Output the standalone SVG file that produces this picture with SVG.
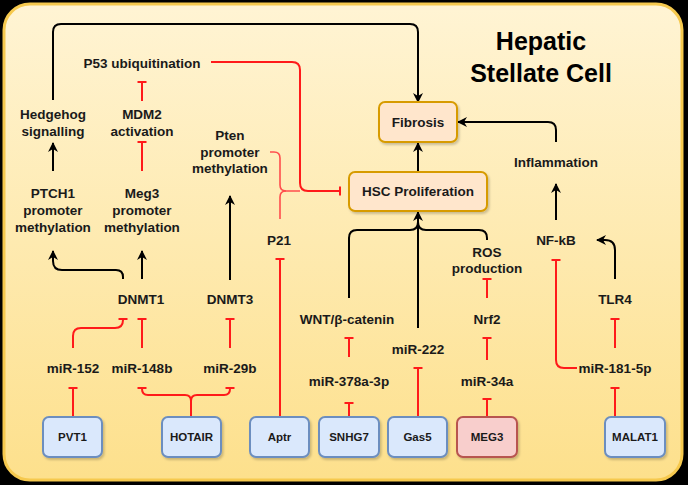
<svg xmlns="http://www.w3.org/2000/svg" width="688" height="485" viewBox="0 0 688 485">
<defs>
<linearGradient id="bg" x1="0" y1="0" x2="0" y2="1">
<stop offset="0" stop-color="#fff4d4"/>
<stop offset="1" stop-color="#fde08c"/>
</linearGradient>
<marker id="arr" viewBox="0 0 10 10" refX="9" refY="5" markerWidth="10" markerHeight="10" markerUnits="userSpaceOnUse" orient="auto">
<path d="M0,0 L10,5 L0,10 L3,5 z" fill="#000"/>
</marker>
<marker id="tee" viewBox="-2 -6 4 12" refX="0" refY="0" markerWidth="4" markerHeight="12" markerUnits="userSpaceOnUse" orient="auto">
<path d="M0,-4.5 V4.5" stroke="#ff1a1a" stroke-width="2"/>
</marker>
<filter id="sh" x="-10%" y="-10%" width="130%" height="130%">
<feDropShadow dx="1.5" dy="2" stdDeviation="1" flood-color="#000" flood-opacity="0.2"/>
</filter>
</defs>
<style>
text{font-family:"Liberation Sans",Arial,sans-serif;font-weight:bold;fill:#1a1a1a;text-anchor:middle}
.lbl{font-size:13.5px}
.bx{font-size:11.5px}
.title{font-size:25px;fill:#000}
.blk{fill:none;stroke:#000;stroke-width:2}
.red{fill:none;stroke:#ff1a1a;stroke-width:2}
.redt{fill:none;stroke:#ff4d4d;stroke-width:1.6}
.core rect{fill:#ffe6cc;stroke:#d79b00;stroke-width:2}
.blue rect{fill:#dae8fc;stroke:#6c8ebf;stroke-width:2}
.pink rect{fill:#f8cecc;stroke:#b85450;stroke-width:2}
</style>
<rect x="0" y="0" width="688" height="485" fill="#000"/>
<rect x="4" y="4" width="678" height="476" rx="26" fill="url(#bg)" stroke="#f6c94e" stroke-width="3"/>
<g id="title"><text class="title" x="541" y="50">Hepatic</text><text class="title" x="541" y="82">Stellate Cell</text></g>

<g id="connectors">
<path class="blk" d="M53,100 V32 Q53,24 61,24 H410 Q418,24 418,32 V102" marker-end="url(#arr)"/>
<path class="blk" d="M418,172 V143" marker-end="url(#arr)"/>
<path class="blk" d="M230,280 V196" marker-end="url(#arr)"/>
<path class="blk" d="M142,279 V251" marker-end="url(#arr)"/>
<path class="blk" d="M123,279 V277 Q123,270 116,270 H62 Q53,270 53,261 V251" marker-end="url(#arr)"/>
<path class="blk" d="M53,171 V143" marker-end="url(#arr)"/>
<path class="blk" d="M349,298 V238 Q349,230 357,230 H410 Q418,230 418,222"/>
<path class="blk" d="M487,240 V238 Q487,230 479,230 H426 Q418,230 418,222"/>
<path class="blk" d="M418,328 V212" marker-end="url(#arr)"/>
<path class="blk" d="M556,142 V130 Q556,122 548,122 H458" marker-end="url(#arr)"/>
<path class="blk" d="M556,220 V184" marker-end="url(#arr)"/>
<path class="blk" d="M615,279 V250 Q615,240 605,240 H597" marker-end="url(#arr)"/>

<path class="red" d="M211,62 H292 Q300,62 300,70 V183 Q300,191 308,191 H340" marker-end="url(#tee)"/>
<path class="redt" d="M270,152 H274 Q280,152 280,158 V185 Q280,191 286,191 H300"/>
<path class="redt" d="M280,219 V197 Q280,191 286,191"/>
<path class="red" d="M142,101 V82" marker-end="url(#tee)"/>
<path class="red" d="M142,171 V142" marker-end="url(#tee)"/>
<path class="red" d="M73,348 V336 Q73,328 81,328 H115 Q123,328 123,320 V319" marker-end="url(#tee)"/>
<path class="red" d="M142,348 V319" marker-end="url(#tee)"/>
<path class="red" d="M230,348 V319" marker-end="url(#tee)"/>
<path class="red" d="M73,417 V388" marker-end="url(#tee)"/>
<path class="red" d="M191,417 V401 Q191,395 185,395 H148 Q142,395 142,389 V388" marker-end="url(#tee)"/>
<path class="red" d="M191,401 Q191,395 197,395 H224 Q230,395 230,389 V388" marker-end="url(#tee)"/>
<path class="red" d="M280,417 V259" marker-end="url(#tee)"/>
<path class="red" d="M349,417 V403" marker-end="url(#tee)"/>
<path class="red" d="M349,357 V338" marker-end="url(#tee)"/>
<path class="red" d="M418,417 V368" marker-end="url(#tee)"/>
<path class="red" d="M487,417 V399" marker-end="url(#tee)"/>
<path class="red" d="M487,360 V338" marker-end="url(#tee)"/>
<path class="red" d="M487,298 V279" marker-end="url(#tee)"/>
<path class="red" d="M577,368 H564 Q556,368 556,360 V260" marker-end="url(#tee)"/>
<path class="red" d="M615,417 V388" marker-end="url(#tee)"/>
<path class="red" d="M615,348 V319" marker-end="url(#tee)"/>
</g>

<g id="fibrosis" class="core"><rect x="379" y="102" width="78" height="40" rx="6" filter="url(#sh)"/><text class="lbl" x="418" y="127">Fibrosis</text></g>
<g id="hsc" class="core"><rect x="349" y="172" width="138" height="39" rx="6" filter="url(#sh)"/><text class="lbl" x="418" y="196">HSC Proliferation</text></g>

<g id="pvt1" class="blue"><rect x="43" y="417" width="59" height="40" rx="6" filter="url(#sh)"/><text class="bx" x="72.5" y="441">PVT1</text></g>
<g id="hotair" class="blue"><rect x="162" y="417" width="59" height="40" rx="6" filter="url(#sh)"/><text class="bx" x="191.5" y="441">HOTAIR</text></g>
<g id="aptr" class="blue"><rect x="250" y="417" width="59" height="40" rx="6" filter="url(#sh)"/><text class="bx" x="279.5" y="441">Aptr</text></g>
<g id="snhg7" class="blue"><rect x="319" y="417" width="60" height="40" rx="6" filter="url(#sh)"/><text class="bx" x="349" y="441">SNHG7</text></g>
<g id="gas5" class="blue"><rect x="388" y="417" width="59" height="40" rx="6" filter="url(#sh)"/><text class="bx" x="417.5" y="441">Gas5</text></g>
<g id="meg3" class="pink"><rect x="457" y="417" width="60" height="40" rx="6" filter="url(#sh)"/><text class="bx" x="487" y="441">MEG3</text></g>
<g id="malat1" class="blue"><rect x="605" y="417" width="60" height="40" rx="6" filter="url(#sh)"/><text class="bx" x="635" y="441">MALAT1</text></g>

<g id="p53"><text class="lbl" x="142" y="68">P53 ubiquitination</text></g>
<g id="hedgehog"><text class="lbl" x="53" y="119">Hedgehog</text><text class="lbl" x="53" y="136">signalling</text></g>
<g id="mdm2"><text class="lbl" x="142" y="119">MDM2</text><text class="lbl" x="142" y="136">activation</text></g>
<g id="pten"><text class="lbl" x="230" y="140">Pten</text><text class="lbl" x="230" y="157">promoter</text><text class="lbl" x="230" y="173">methylation</text></g>
<g id="ptch1"><text class="lbl" x="53" y="198">PTCH1</text><text class="lbl" x="53" y="215">promoter</text><text class="lbl" x="53" y="232">methylation</text></g>
<g id="meg3pm"><text class="lbl" x="142" y="198">Meg3</text><text class="lbl" x="142" y="215">promoter</text><text class="lbl" x="142" y="232">methylation</text></g>
<g id="p21"><text class="lbl" x="279" y="245">P21</text></g>
<g id="dnmt1"><text class="lbl" x="141" y="304">DNMT1</text></g>
<g id="dnmt3"><text class="lbl" x="230" y="304">DNMT3</text></g>
<g id="mir152"><text class="lbl" x="73" y="373">miR-152</text></g>
<g id="mir148b"><text class="lbl" x="142" y="373">miR-148b</text></g>
<g id="mir29b"><text class="lbl" x="230" y="373">miR-29b</text></g>
<g id="wnt"><text class="lbl" x="347" y="324">WNT/β-catenin</text></g>
<g id="mir222"><text class="lbl" x="418" y="354">miR-222</text></g>
<g id="mir378"><text class="lbl" x="349" y="386">miR-378a-3p</text></g>
<g id="nrf2"><text class="lbl" x="487" y="324">Nrf2</text></g>
<g id="mir34a"><text class="lbl" x="487" y="386">miR-34a</text></g>
<g id="ros"><text class="lbl" x="487" y="257">ROS</text><text class="lbl" x="487" y="273">production</text></g>
<g id="nfkb"><text class="lbl" x="556" y="245">NF-kB</text></g>
<g id="tlr4"><text class="lbl" x="615" y="304">TLR4</text></g>
<g id="inflammation"><text class="lbl" x="556" y="167">Inflammation</text></g>
<g id="mir181"><text class="lbl" x="615" y="373">miR-181-5p</text></g>
</svg>
